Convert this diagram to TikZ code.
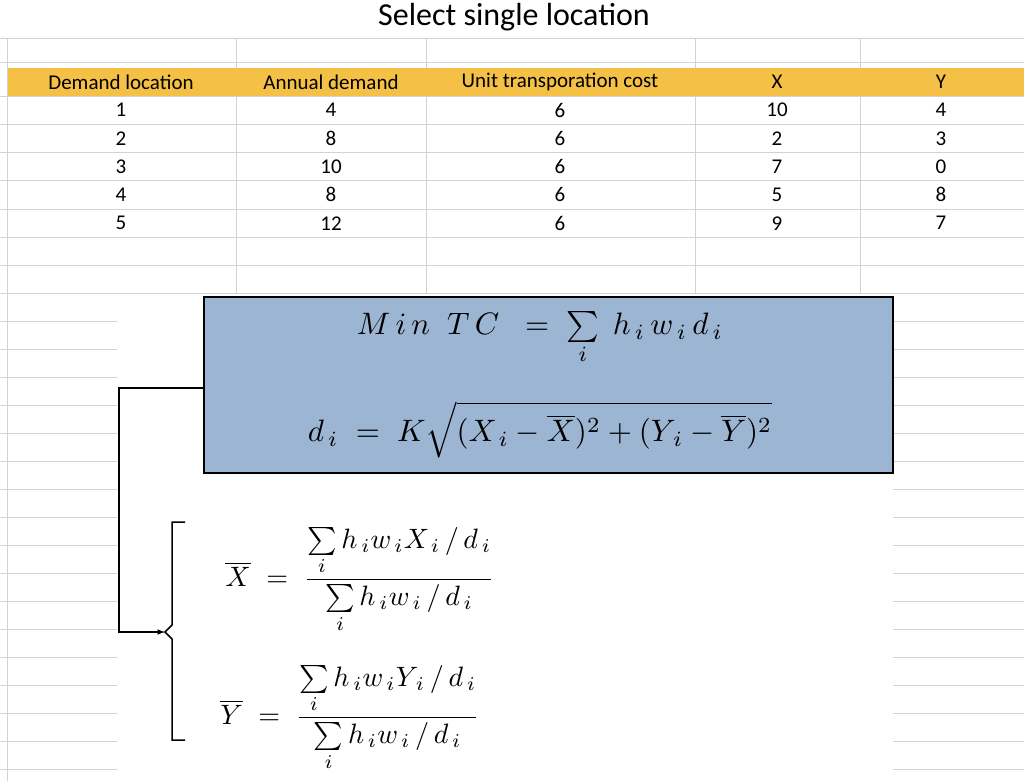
\documentclass[tikz,border=0pt]{standalone}
\usepackage{fontspec}
\setmainfont{Carlito}
\usepackage{amsmath}
\begin{document}
\begin{tikzpicture}[x=1pt,y=-1pt,
  grid/.style={draw=gray!35,line width=0.8pt},
  cell/.style={font=\fontsize{21}{25}\selectfont,anchor=center},
  frm/.style={scale=3.1,anchor=center},
  frac/.style={scale=2.8,anchor=center}]
\useasboundingbox (0,0) rectangle (1024,781);
\fill[white] (0,0) rectangle (1024,781);
\definecolor{hdr}{HTML}{F4C045}
\fill[hdr] (7,68) rectangle (1024,96);
% grid
\foreach \y in {38,62,96,124,152,180,209,237,265,293} \draw[grid] (0,\y) -- (1024,\y);
\foreach \x in {236,426,695,860} \draw[grid] (\x,38) -- (\x,68) (\x,96) -- (\x,293);
\draw[grid] (7,38) -- (7,781);
\foreach \y in {321,349,377,405,433,461,489,517,545,573,601,629,657,685,713,741,769} {
  \draw[grid] (0,\y) -- (117,\y);
  \draw[grid] (893,\y) -- (1024,\y);
}
\node[font=\fontsize{32}{36}\selectfont] (title) at (514,17) {Select single location};
% header
\node[cell] (h1) at (121,82) {Demand location};
\node[cell] (h2) at (331,82) {Annual demand};
\node[cell] (h3) at (560,82) {Unit transporation cost};
\node[cell] (h4) at (777,82) {X};
\node[cell] (h5) at (941,82) {Y};
\foreach \a/\b/\c/\d/\e [count=\i] in {1/4/6/10/4,2/8/6/2/3,3/10/6/7/0,4/8/6/5/8,5/12/6/9/7}{
  \pgfmathsetmacro\yy{110+28.3*(\i-1)}
  \node[cell] (a\i) at (121,\yy) {\a};
  \node[cell] (b\i) at (331,\yy) {\b};
  \node[cell] (c\i) at (560,\yy) {\c};
  \node[cell] (d\i) at (777,\yy) {\d};
  \node[cell] (e\i) at (941,\yy) {\e};
}
% blue box
\definecolor{boxblue}{HTML}{9CB5D2}
\node[draw=black,line width=1.2pt,fill=boxblue,minimum width=689pt,minimum height=176pt,inner sep=0pt] (box) at (548.5,385) {};
\node[frm] (f1) at (540,338) {$M\,i\,n\;\;T\,C \;\;=\; \sum\limits_{i}\; h_{\,i}\, w_{\,i}\, d_{\,i}$};
\node[frm] (f2) at (540,430) {$d_{\,i} \;=\; K\sqrt{(X_{\,i}-\overline{X})^2+(Y_{\,i}-\overline{Y})^2}$};
\node[frac] (f3) at (360,580) {$\overline{X} \;=\; \dfrac{\sum\limits_i h_{\,i} w_{\,i} X_{\,i} \,/\, d_{\,i}}{\sum\limits_i h_{\,i} w_{\,i} \,/\, d_{\,i}}$};
\node[frac] (f4) at (350,718) {$\overline{Y} \;=\; \dfrac{\sum\limits_i h_{\,i} w_{\,i} Y_{\,i} \,/\, d_{\,i}}{\sum\limits_i h_{\,i} w_{\,i} \,/\, d_{\,i}}$};
% connector
\coordinate (brk) at (165,632);
\draw[line width=1.5pt,-latex] (box.west |- 0,388) -- (119,388) -- (119,632) -- (brk);
\draw[line width=1.5pt] (185,522) -- (172,522) -- (172,625) -- (165,632) -- (172,639) -- (172,740) -- (185,740);
\end{tikzpicture}
\end{document}
